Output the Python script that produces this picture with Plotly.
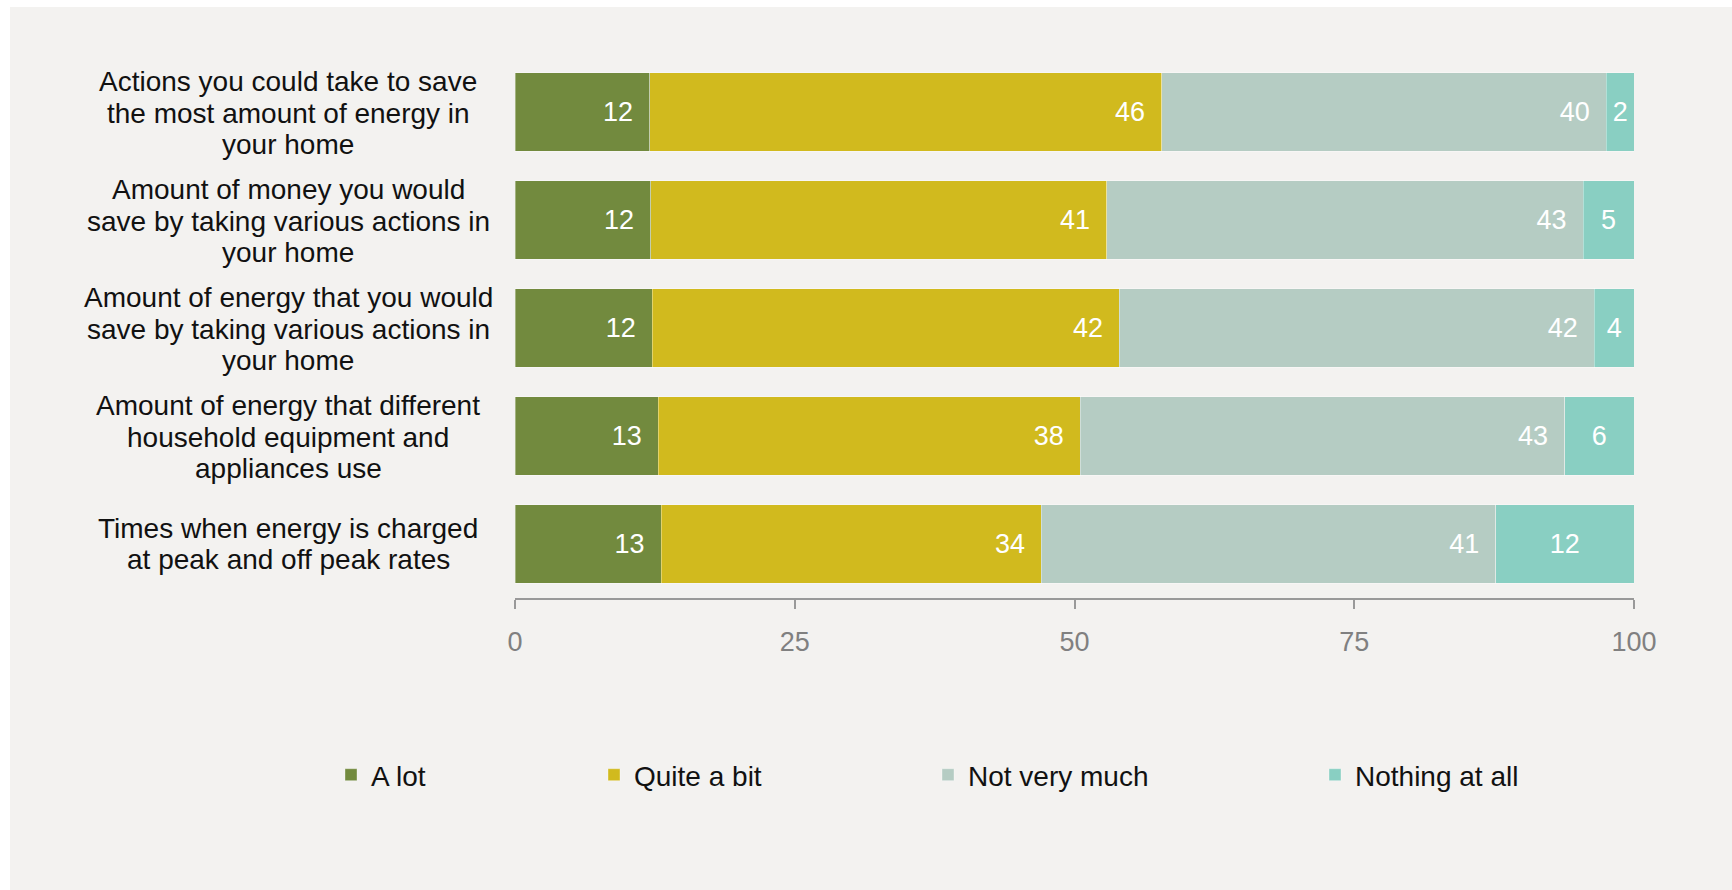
import plotly.graph_objects as go

# ---------------- data ----------------
categories = [
    "Actions you could take to save<br>the most amount of energy in<br>your home",
    "Amount of money you would<br>save by taking various actions in<br>your home",
    "Amount of energy that you would<br>save by taking various actions in<br>your home",
    "Amount of energy that different<br>household equipment and<br>appliances use",
    "Times when energy is charged<br>at peak and off peak rates",
]
series_names = ["A lot", "Quite a bit", "Not very much", "Nothing at all"]
a_lot = [12.03, 12.12, 12.27, 12.81, 13.05]
quite_a_bit = [45.75, 40.74, 41.75, 37.70, 34.00]
not_very_much = [39.75, 42.59, 42.44, 43.29, 40.59]
nothing_at_all = [2.47, 4.55, 3.54, 6.20, 12.36]
x_ticks = [0, 25, 50, 75, 100]

# ---------------- style ----------------
colors = ["#728a3e", "#d1ba1e", "#b5ccc3", "#89cfc2"]
anchors = ["end", "end", "end", "middle"]
FONT = "Liberation Sans, Arial, Helvetica, sans-serif"
BG = "#f3f2f0"
PAD = "\u2002"

series_values = [a_lot, quite_a_bit, not_very_much, nothing_at_all]
legend_ids = ["legend", "legend2", "legend3", "legend4"]
legend_x_px = [331, 594, 928, 1315]

fig = go.Figure()
for name, vals, col, anc, lid in zip(series_names, series_values, colors, anchors, legend_ids):
    fig.add_trace(go.Bar(
        y=categories, x=vals, name=name, orientation="h",
        marker=dict(color=col, line=dict(color="rgba(255,255,255,0.35)", width=1)),
        texttemplate="%{x:.0f}" + (PAD if anc == "end" else ""),
        textposition="inside", insidetextanchor=anc, textangle=0,
        textfont=dict(family=FONT, size=27, color="white"),
        hoverinfo="skip", legend=lid,
    ))

W, H = 1732, 890
ML, MR, MT, MB = 515, 98, 58, 292
PW, PH = W - ML - MR, H - MT - MB

layout_legends = {}
for lid, lx in zip(legend_ids, legend_x_px):
    layout_legends[lid] = dict(
        x=lx / W, y=1 - 775 / H, xref="container", yref="container",
        xanchor="left", yanchor="middle", orientation="h",
        bgcolor="rgba(0,0,0,0)", borderwidth=0,
        font=dict(family=FONT, size=28, color="#111111"),
        itemclick=False, itemdoubleclick=False,
    )

# category labels (centred, tight line spacing)
annotations = []
label_cx = (288 - ML) / PW
line_gap = 31.5
for cat in categories:
    lines = cat.split("<br>")
    n = len(lines)
    for j, ln in enumerate(lines):
        annotations.append(dict(
            text=ln, x=label_cx, y=cat, xref="paper", yref="y",
            xanchor="center", yanchor="middle", showarrow=False,
            yshift=((n - 1) / 2 - j) * line_gap - (1 if n == 3 else 0),
            font=dict(family=FONT, size=28, color="#111111"),
        ))

def px2x(p):
    return (p - ML) / PW

def px2y(q):
    return (MT + PH - q) / PH

shapes = [
    dict(type="rect", xref="paper", yref="paper", x0=px2x(-50), x1=px2x(W + 50),
         y0=px2y(7), y1=px2y(-50), fillcolor="white", line=dict(width=0), layer="above"),
    dict(type="rect", xref="paper", yref="paper", x0=px2x(-50), x1=px2x(10),
         y0=px2y(H + 50), y1=px2y(-50), fillcolor="white", line=dict(width=0), layer="above"),
]

fig.update_layout(
    width=W, height=H,
    barmode="stack", bargap=0.274,
    paper_bgcolor=BG, plot_bgcolor=BG,
    margin=dict(l=ML, r=MR, t=MT, b=MB),
    showlegend=True,
    annotations=annotations,
    shapes=shapes,
    font=dict(family=FONT),
    hovermode=False,
    **layout_legends,
)
fig.update_xaxes(
    range=[0, 100], tickvals=x_ticks, ticktext=[str(t) for t in x_ticks],
    showgrid=False, zeroline=False,
    showline=True, linecolor="#999999", linewidth=2,
    ticks="outside", ticklen=9, tickwidth=2, tickcolor="#999999",
    tickfont=dict(family=FONT, size=27, color="#808080"),
    ticklabelstandoff=10, fixedrange=True,
)
fig.update_yaxes(
    categoryorder="array", categoryarray=categories,
    range=[len(categories) - 0.5, -0.5],
    showticklabels=False, showgrid=False, zeroline=False, showline=False,
    ticks="", fixedrange=True,
)

fig.write_html(
    "out.html",
    config={"displayModeBar": False, "staticPlot": True},
    post_script="document.body.style.margin='0px';document.body.style.overflow='hidden';",
)
